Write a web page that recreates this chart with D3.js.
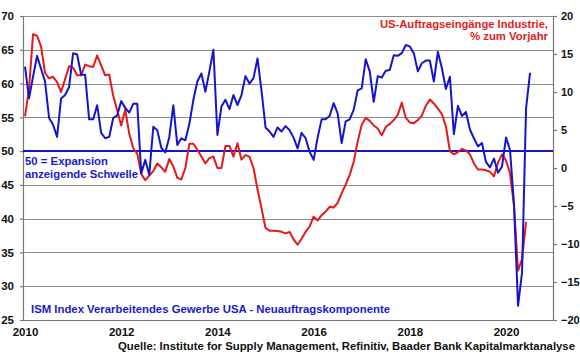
<!DOCTYPE html>
<html><head><meta charset="utf-8">
<script src="https://cdn.jsdelivr.net/npm/d3@7"></script>
<style>
body{margin:0;background:#fff;}
svg{display:block;font-family:"Liberation Sans",Arial,sans-serif;}
</style></head><body>
<svg id="c" width="580" height="359"></svg>
<script>
// Monthly data starting Jan 2010
const startYear = 2010;
const ismNewOrders = [62.5,57.8,61,64.1,62.2,60.3,54.9,53.9,52.1,57.8,58.3,59.5,
64.5,64.3,61.3,61.3,54.7,54.7,56.8,52.7,51.9,52.1,54.9,55.3,
57.4,56.4,55.7,57,57,46.7,48.7,46.5,53.6,53.1,50.5,49.8,
52.1,56.8,50.9,51.9,51.6,54,57.6,60.3,61.5,58.8,61.8,65,
52.4,56.6,57.6,56.2,58.3,56.8,58.3,61.1,60,60.8,63.7,59,
53.5,52.9,52.1,53.5,52.9,53.7,53.1,52,50.4,52.7,51.9,49.9,
48.7,52,54.7,54.7,55.2,57.1,55.6,51.2,54.4,54.7,56.1,59,
59.3,63.6,61.8,57.3,61.1,60.9,61.9,62,64.2,64.1,64.5,65.7,
65.5,64.5,61.8,63,63.4,63.4,60.3,64.7,62.3,59.2,61,52.5,
56.7,55.2,55.8,53.2,51.9,50.7,51.2,48.4,47.6,48.9,46.8,47.7,
52,50.2,42,27.1,32,56.3,61.6];
const factoryOrdersYoY = [6.8,10.4,17.6,17.4,16.0,12.5,11.8,12.0,11.3,10.0,11.7,13.4,
13.2,12.2,12.2,13.6,13.4,13.3,14.8,13.5,12.2,12.3,9.5,7.6,
5.6,7.7,4.5,2.6,1.9,-0.8,-1.6,-1.0,-0.4,0.6,0.1,-0.5,
1.2,0.2,-1.3,-1.5,0,3.2,3.2,2.4,1.5,0.6,1.3,1.5,
0,0,2.9,2.9,1.5,3.25,1.1,1.7,1.5,0,-2.8,-5.3,
-7.9,-8.25,-8.25,-8.3,-8.4,-8.6,-8.4,-9.4,-10.1,-9.3,-8.4,-7.7,
-6.4,-6.9,-6.2,-5.75,-5.1,-5.2,-4.6,-3.3,-2.2,-0.9,0.8,3.5,
5.7,6.6,6.2,5.6,5.2,4.3,5.4,5.8,6.3,7.0,8.6,6.6,
6.0,5.9,6.3,6.9,8.2,9.0,8.5,7.8,7.1,5.5,2.2,1.8,
2.1,2.5,2.3,1.8,0.6,-0.2,-0.2,-0.3,-0.5,-1.1,0.7,1.8,
1.0,-0.7,-5,-13.5,-12,-7.1];
const leftTicks = [25,30,35,40,45,50,55,60,65,70];
const rightTicks = [-20,-15,-10,-5,0,5,10,15,20];
const xTicks = [2010,2012,2014,2016,2018,2020];
const threshold = 50;

const svg = d3.select("#c");
const L = 23, R = 553, T = 16, B = 320;
const x = d3.scaleLinear().domain([2009.958, 2020.977]).range([L, R]);
const yL = d3.scaleLinear().domain([25, 70]).range([B, T]);
const yR = d3.scaleLinear().domain([-20, 20]).range([B, T]);
const tYear = i => startYear + i / 12;

// gridlines
svg.append("g").selectAll("line").data(leftTicks).join("line")
  .attr("x1", L).attr("x2", R)
  .attr("y1", d => Math.round(yL(d)) + 0.5).attr("y2", d => Math.round(yL(d)) + 0.5)
  .attr("stroke", "#8c8c8c").attr("stroke-width", 1.2);

// axes
const axL = svg.append("g").attr("transform", `translate(${L},0)`)
  .call(d3.axisLeft(yL).tickValues(leftTicks).tickSize(3).tickPadding(6).tickSizeOuter(0));
const axR = svg.append("g").attr("transform", `translate(${R},0)`)
  .call(d3.axisRight(yR).tickValues(rightTicks).tickSize(4).tickPadding(4).tickSizeOuter(0));
const axB = svg.append("g").attr("transform", `translate(0,${B})`)
  .call(d3.axisBottom(x).tickValues(xTicks).tickFormat(d3.format("d")).tickSize(0).tickPadding(8).tickSizeOuter(0));
[axL, axR, axB].forEach(a => {
  a.selectAll("path,line").attr("stroke", "#777").attr("stroke-width", 1.2);
  a.selectAll("text").attr("fill", "#111").attr("font-size", "11.5px").attr("font-weight", "bold")
   .attr("font-family", '"Liberation Sans",Arial,sans-serif');
});
axR.selectAll("text").attr("font-size", "11px");

// threshold line
svg.append("line").attr("x1", L).attr("x2", R)
  .attr("y1", yL(threshold)).attr("y2", yL(threshold))
  .attr("stroke", "#1515c8").attr("stroke-width", 2);

// lines
const lineL = d3.line().x((d, i) => x(tYear(i))).y(d => yL(d));
const lineR = d3.line().x((d, i) => x(tYear(i))).y(d => yR(d));
svg.append("path").datum(factoryOrdersYoY).attr("d", lineR)
  .attr("fill", "none").attr("stroke", "#e41a1a").attr("stroke-width", 2).attr("stroke-linejoin", "round");
svg.append("path").datum(ismNewOrders).attr("d", lineL)
  .attr("fill", "none").attr("stroke", "#1414cc").attr("stroke-width", 2).attr("stroke-linejoin", "round");

// texts
const blue = "#1a1acc", red = "#e01c1c";
function txt(s, xx, yy, col, anchor, size, len) {
  const t = svg.append("text").attr("x", xx).attr("y", yy).attr("fill", col)
    .attr("text-anchor", anchor).attr("font-size", size).attr("font-weight", "bold").text(s);
  if (len) t.attr("textLength", len).attr("lengthAdjust", "spacingAndGlyphs");
  return t;
}
txt("US-Auftragseingänge Industrie,", 548, 28, red, "end", "11.5px", 168);
txt("% zum Vorjahr", 548, 40, red, "end", "11.5px", 78);
txt("50 = Expansion", 25, 165, blue, "start", "11.5px", 83);
txt("anzeigende Schwelle", 25, 177.5, blue, "start", "11.5px", 113);
txt("ISM Index Verarbeitendes Gewerbe USA - Neuauftragskomponente", 31, 313, blue, "start", "11.5px", 359);
txt("Quelle: Institute for Supply Management, Refinitiv, Baader Bank Kapitalmarktanalyse", 575, 350, "#111", "end", "11.5px", 457);
</script>
</body></html>
